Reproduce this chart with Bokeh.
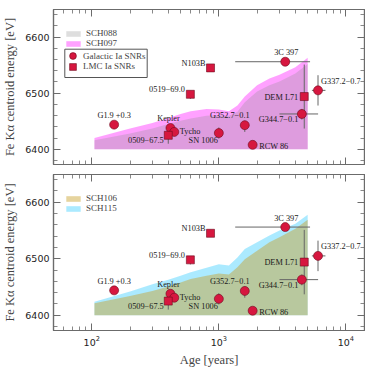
from bokeh.plotting import figure
from bokeh.models import (ColumnDataSource, Range1d, LogAxis, LinearAxis, FixedTicker,
                          Legend, LegendItem, BoxAnnotation)
from bokeh.layouts import column
from bokeh.core.properties import value
from bokeh.embed import file_html
from bokeh.resources import INLINE

# ---------------- data ----------------
gal_names = ["Kepler", "Tycho", "SN 1006", "G1.9 +0.3", "RCW 86",
             "G344.7\u22120.1", "G352.7\u22120.1", "3C 397", "G337.2\u22120.7"]
gal_age = [416, 446, 1000, 150, 1845, 4500, 1600, 3330, 6030]
gal_E = [6438, 6431, 6429, 6444, 6408, 6463, 6443, 6556, 6505]
gal_E_lo = [1, 1, 10, 3, 5, 10, 12, 3, 27]
gal_E_hi = [1, 1, 10, 3, 4, 9, 8, 4, 27]

lmc_names = ["0509\u221267.5", "0519\u221269.0", "N103B", "DEM L71"]
lmc_age = [400, 597, 860, 4700]
lmc_E = [6425, 6498, 6545, 6494]
lmc_E_lo = [15, 8, 5, 57]
lmc_E_hi = [14, 6, 6, 57]

range_names = ["G344.7\u22120.1", "3C 397", "G337.2\u22120.7"]
range_age_min = [3000, 1345, 5400]
range_age_max = [6040, 5220, 6900]

band_age = [105, 200, 300, 400, 500, 600, 800, 1000, 1200, 1400, 1600, 2000, 2500, 3000, 4000, 5000]
band_floor = 6400
sch088 = [6416, 6428, 6437, 6445, 6451, 6455, 6460, 6461, 6460, 6467, 6484, 6503, 6514, 6521, 6535, 6552]
sch097 = [6420, 6437, 6447, 6456, 6463, 6468, 6472, 6471, 6468, 6478, 6494, 6514, 6526, 6533, 6546, 6563]
sch106 = [6421, 6434, 6443, 6451, 6458, 6464, 6470, 6474, 6472, 6485, 6499, 6514, 6529, 6538, 6553, 6569]
sch115 = [6424, 6442, 6455, 6463, 6470, 6476, 6484, 6490, 6488, 6502, 6517, 6529, 6541, 6550, 6562, 6578]

x_major = [100, 1000, 10000]
x_minor = [60, 70, 80, 90, 200, 300, 400, 500, 600, 700, 800, 900,
           2000, 3000, 4000, 5000, 6000, 7000, 8000, 9000]
y_major = [6400, 6500, 6600]
y_minor = [6380, 6420, 6440, 6460, 6480, 6520, 6540, 6560, 6580, 6620, 6640]

# label layout (screen offsets, px) -- styling, not data
label_layout = {
    "G1.9 +0.3": (0, -9, "center"),
    "Kepler": (-2, -9, "center"),
    "Tycho": (5.5, -0.5, "left"),
    "SN 1006": (-1, 7.5, "right"),
    "0509\u221267.5": (-4.5, 4.5, "right"),
    "0519\u221269.0": (-5.5, -5, "right"),
    "N103B": (-5, -4.5, "right"),
    "3C 397": (1, -9, "center"),
    "G337.2\u22120.7": (3, -9, "left"),
    "DEM L71": (-6, 0.5, "right"),
    "G344.7\u22120.1": (-3.5, 6, "right"),
    "G352.7\u22120.1": (-15, -9.5, "center"),
    "RCW 86": (6.5, 1.5, "left"),
}

SERIF = "Liberation Serif"
SANS = "DejaVu Sans"
FRAME = "#6b6b6b"
RED = "#d6173f"
EDGE = "#6e0a1e"
ERR = "#666666"


def style_axis(ax, show_labels):
    ax.axis_line_color = FRAME
    ax.axis_line_width = 1.2
    ax.major_tick_line_color = FRAME
    ax.minor_tick_line_color = FRAME
    ax.major_tick_line_width = 1
    ax.minor_tick_line_width = 0.8
    ax.major_tick_in = 7
    ax.major_tick_out = 0
    ax.minor_tick_in = 4
    ax.minor_tick_out = 0
    ax.major_label_text_font = SANS
    ax.major_label_text_font_size = "9.5px"
    ax.major_label_text_color = "#222222"
    if not show_labels:
        ax.major_label_text_font_size = "1px"
        ax.major_label_text_alpha = 0
        ax.major_label_standoff = 0


def make_panel(lo_name, lo_vals, lo_color, lo_alpha, hi_name, hi_vals, hi_color, hi_alpha,
               show_x, top_border, bottom_border, show_marker_legend, fh):
    p = figure(x_axis_type="log", x_range=Range1d(50, 14000), y_range=Range1d(6373, 6649),
               frame_width=311, frame_height=fh,
               min_border_left=44, min_border_right=1,
               min_border_top=top_border, min_border_bottom=bottom_border,
               output_backend="svg", toolbar_location=None)
    p.xgrid.visible = False
    p.ygrid.visible = False
    p.outline_line_color = FRAME
    p.outline_line_width = 1.2
    p.background_fill_color = "white"
    p.border_fill_color = "white"

    xt = FixedTicker(ticks=x_major, minor_ticks=x_minor)
    yt = FixedTicker(ticks=y_major, minor_ticks=y_minor)
    p.xaxis.ticker = xt
    p.yaxis.ticker = yt
    style_axis(p.xaxis[0], show_x)
    style_axis(p.yaxis[0], True)
    p.yaxis.major_label_standoff = 4
    p.yaxis.axis_label = "Fe K\u03b1 centroid energy [eV]"
    p.yaxis.axis_label_text_font = SERIF
    p.yaxis.axis_label_text_font_style = "normal"
    p.yaxis.axis_label_text_font_size = "12.5px"
    p.yaxis.axis_label_standoff = 5
    if show_x:
        p.xaxis.axis_label = "Age [years]"
        p.xaxis.axis_label_text_font = SERIF
        p.xaxis.axis_label_text_font_style = "normal"
        p.xaxis.axis_label_text_font_size = "12.5px"
        p.xaxis.axis_label_standoff = 4
        p.xaxis.major_label_standoff = 5

    ax_top = LogAxis(ticker=FixedTicker(ticks=x_major, minor_ticks=x_minor))
    style_axis(ax_top, False)
    p.add_layout(ax_top, "above")
    ax_right = LinearAxis(ticker=FixedTicker(ticks=y_major, minor_ticks=y_minor))
    style_axis(ax_right, False)
    p.add_layout(ax_right, "right")

    r_hi = p.varea(x=band_age, y1=band_floor, y2=hi_vals, fill_color=hi_color, fill_alpha=hi_alpha)
    r_lo = p.varea(x=band_age, y1=band_floor, y2=lo_vals, fill_color=lo_color, fill_alpha=lo_alpha)

    # error bars
    p.segment(x0=gal_age, x1=gal_age,
              y0=[e - d for e, d in zip(gal_E, gal_E_lo)],
              y1=[e + d for e, d in zip(gal_E, gal_E_hi)],
              line_color=ERR, line_width=1)
    p.segment(x0=lmc_age, x1=lmc_age,
              y0=[e - d for e, d in zip(lmc_E, lmc_E_lo)],
              y1=[e + d for e, d in zip(lmc_E, lmc_E_hi)],
              line_color=ERR, line_width=1)
    range_E = [gal_E[gal_names.index(n)] for n in range_names]
    p.segment(x0=range_age_min, x1=range_age_max, y0=range_E, y1=range_E,
              line_color=ERR, line_width=1)

    r_gal = p.scatter(x=gal_age, y=gal_E, marker="circle", size=9,
                      fill_color=RED, line_color=EDGE, line_width=0.6)
    r_lmc = p.scatter(x=lmc_age, y=lmc_E, marker="square", size=8,
                      fill_color=RED, line_color=EDGE, line_width=0.6)

    names = gal_names + lmc_names
    ages = gal_age + lmc_age
    es = gal_E + lmc_E
    src = ColumnDataSource(dict(
        x=ages, y=es, text=names,
        xo=[label_layout[n][0] for n in names],
        yo=[label_layout[n][1] for n in names],
        al=[label_layout[n][2] for n in names],
    ))
    p.text(x="x", y="y", text="text", x_offset="xo", y_offset="yo", text_align="al",
           text_baseline="middle", source=src, text_font=value(SERIF),
           text_font_size="8.3px", text_color="#1a1a1a")

    leg1 = Legend(items=[LegendItem(label=lo_name, renderers=[r_lo]),
                         LegendItem(label=hi_name, renderers=[r_hi])],
                  location=(11.0, fh - 39.0), margin=0, padding=0, spacing=0,
                  glyph_width=18, glyph_height=7, label_standoff=4, label_height=9,
                  label_text_font=SERIF, label_text_font_size="9px",
                  border_line_color=None, background_fill_alpha=0)
    p.add_layout(leg1, "center")
    if show_marker_legend:
        box = BoxAnnotation(left=11.3, right=93.7, bottom=fh - 68, top=fh - 39.7,
                            left_units="screen", right_units="screen",
                            top_units="screen", bottom_units="screen",
                            fill_color="white", fill_alpha=1,
                            line_color="#555555", line_width=1, line_alpha=1)
        p.add_layout(box)
        for k, (lab, rend) in enumerate([("Galactic Ia SNRs", r_gal), ("LMC Ia SNRs", r_lmc)]):
            lg = Legend(items=[LegendItem(label=lab, renderers=[rend])],
                        location=(11.0, fh - 55.0 - 10.5 * k), margin=0, padding=0,
                        spacing=0, glyph_width=17, glyph_height=17, label_standoff=2,
                        label_height=17, label_text_font=SERIF, label_text_font_size="9px",
                        border_line_color=None, background_fill_alpha=0)
            p.add_layout(lg, "center")
    return p


p1 = make_panel("SCH088", sch088, "#919191", 0.3, "SCH097", sch097, "#ff00ff", 0.37,
                False, 9, 2, True, 155)
p2 = make_panel("SCH106", sch106, "#c8a028", 0.45, "SCH115", sch115, "#00bfff", 0.33,
                True, 8, 30, False, 156)

layout = column(p1, p2, spacing=0)
open("out.html", "w").write(file_html(layout, INLINE))
